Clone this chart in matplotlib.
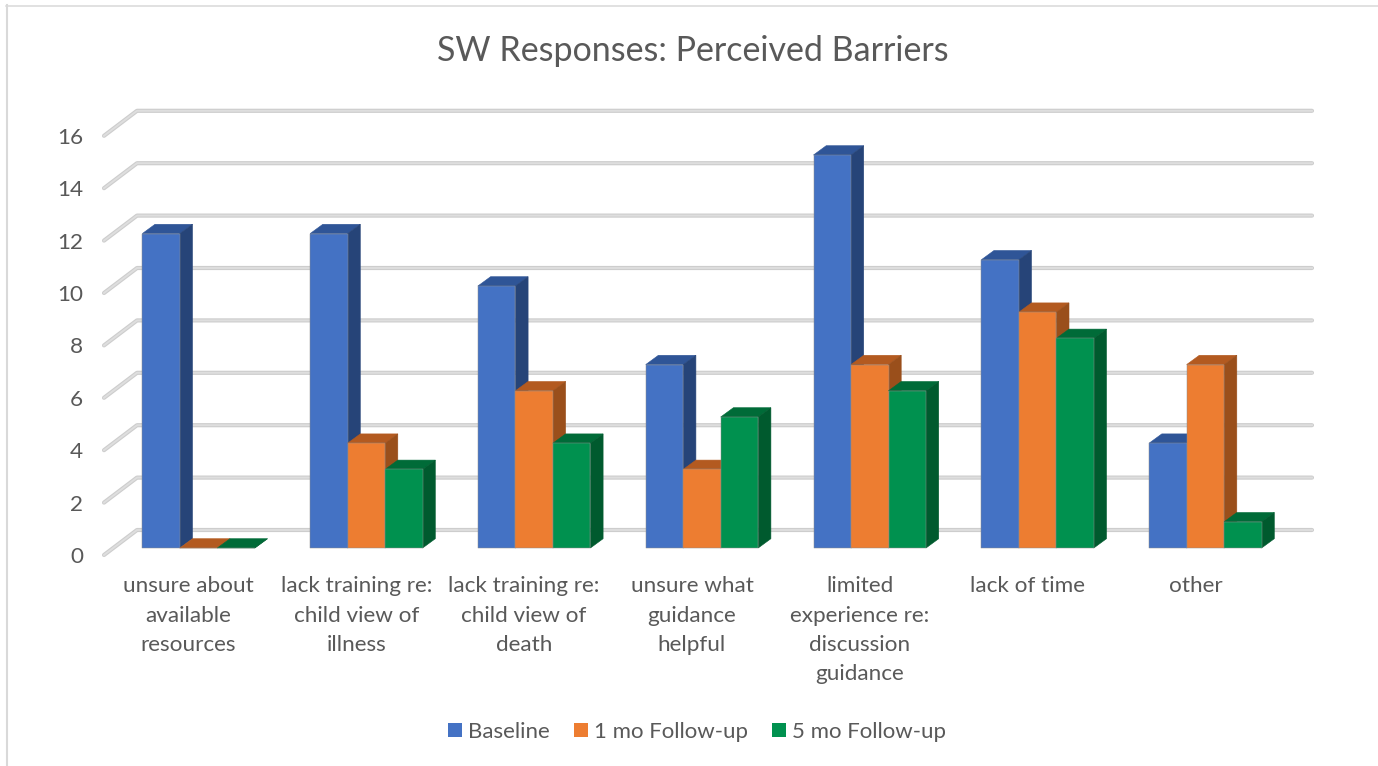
import matplotlib

matplotlib.use('Agg')
import matplotlib.pyplot as plt
from matplotlib.patches import Polygon, Rectangle
from matplotlib.transforms import ScaledTranslation

plt.rcParams['font.family'] = ['Lato', 'DejaVu Sans']

CATEGORIES = [
    'unsure about\navailable\nresources',
    'lack training re:\nchild view of\nillness',
    'lack training re:\nchild view of\ndeath',
    'unsure what\nguidance\nhelpful',
    'limited\nexperience re:\ndiscussion\nguidance',
    'lack of time',
    'other',
]
BASELINE = [12, 12, 10, 7, 15, 11, 4]
ONE_MONTH = [0, 4, 6, 3, 7, 9, 7]
FIVE_MONTH = [0, 3, 4, 5, 6, 8, 1]
SERIES_NAMES = ['Baseline', '1 mo Follow-up', '5 mo Follow-up']
Y_TICKS = [0, 2, 4, 6, 8, 10, 12, 14, 16]

FRONT_COLORS = ['#4472C4', '#ED7D31', '#00914F']
TOP_COLORS = ['#2F5597', '#B35A20', '#006B38']
SIDE_COLORS = ['#264478', '#9A4F1B', '#005A2E']
TEXT_COLOR = '#595959'

WIDTH, HEIGHT = 1378, 766
PX_PER_GROUP = 167.8
PX_PER_UNIT = 26.2
BASE_Y = 548.0
FIRST_CENTER = 198.55
BAR_PX = 37.5

fig = plt.figure(figsize=(WIDTH / 100, HEIGHT / 100), dpi=100)
# axes span x pixels 110-1310 and y from value 0 to value 16
left_px, right_px = 110, 1310
top_px = BASE_Y - 16 * PX_PER_UNIT
ax = fig.add_axes([
    left_px / WIDTH,
    1 - BASE_Y / HEIGHT,
    (right_px - left_px) / WIDTH,
    (BASE_Y - top_px) / HEIGHT,
])
ax.set_xlim(
    (left_px - FIRST_CENTER) / PX_PER_GROUP,
    (right_px - FIRST_CENTER) / PX_PER_GROUP,
)
ax.set_ylim(0, 16)
for spine in ax.spines.values():
    spine.set_visible(False)

bar_w = BAR_PX / PX_PER_GROUP
depth_x = 12.7 / PX_PER_GROUP
depth_y = 9.3 / PX_PER_UNIT

# gridlines: short diagonal on the side wall, long line on the back wall
grid_back_x = (137 - FIRST_CENTER) / PX_PER_GROUP
grid_front_x = (104 - FIRST_CENTER) / PX_PER_GROUP
grid_end_x = (1312 - FIRST_CENTER) / PX_PER_GROUP
grid_back_dy = (BASE_Y - 530) / PX_PER_UNIT
grid_front_dy = (BASE_Y - 555) / PX_PER_UNIT
for value in Y_TICKS:
    xs = [grid_front_x, grid_back_x, grid_end_x]
    ys = [value + grid_front_dy, value + grid_back_dy, value + grid_back_dy]
    ax.plot(xs, ys, color='#cdcdcd', lw=3.0, clip_on=False, zorder=1,
            solid_capstyle='round', solid_joinstyle='round')
    ax.plot(xs, ys, color='#dedede', lw=1.4, clip_on=False, zorder=1.1)


def draw_bar(x_left, value, idx, zorder):
    x_right = x_left + bar_w
    top = [(x_left, value), (x_right, value),
           (x_right + depth_x, value + depth_y),
           (x_left + depth_x, value + depth_y)]
    side = [(x_right, 0), (x_right + depth_x, depth_y),
            (x_right + depth_x, value + depth_y), (x_right, value)]
    shade = {'linewidth': 0.4, 'clip_on': False, 'zorder': zorder}
    ax.add_patch(Polygon(top, facecolor=TOP_COLORS[idx],
                         edgecolor=TOP_COLORS[idx], **shade))
    ax.add_patch(Polygon(side, facecolor=SIDE_COLORS[idx],
                         edgecolor=SIDE_COLORS[idx], **shade))
    ax.add_patch(Rectangle((x_left, 0), bar_w, value,
                           facecolor=FRONT_COLORS[idx], edgecolor='#8c8c8c',
                           linewidth=0.35, clip_on=False, zorder=zorder))


for group, values in enumerate(zip(BASELINE, ONE_MONTH, FIVE_MONTH)):
    for idx, value in enumerate(values):
        x_left = group + (idx - 1.5) * bar_w
        draw_bar(x_left, value, idx, 2 + group + idx * 0.1)

ax.set_xticks(range(len(CATEGORIES)))
ax.set_xticklabels(CATEGORIES, fontsize=16.2, color=TEXT_COLOR, linespacing=1.57)
ax.set_yticks(Y_TICKS)
ax.set_yticklabels([str(v) for v in Y_TICKS], fontsize=16.2, color=TEXT_COLOR)
ax.tick_params(axis='both', length=0)
ax.tick_params(axis='x', pad=20.5)
ax.tick_params(axis='y', pad=19.5)

# labels sit left of the bars and below the gridline ends, as in the 3D layout
x_shift = ScaledTranslation(-10 / 100, 0, fig.dpi_scale_trans)
for label in ax.get_xticklabels():
    label.set_transform(label.get_transform() + x_shift)
y_shift = ScaledTranslation(0, -7 / 100, fig.dpi_scale_trans)
for label in ax.get_yticklabels():
    label.set_transform(label.get_transform() + y_shift)

fig.text(693 / WIDTH, 1 - 51 / HEIGHT, 'SW Responses: Perceived Barriers',
         fontsize=24.5, color=TEXT_COLOR, ha='center', va='center')

handles = [Rectangle((0, 0), 1, 1, facecolor=c) for c in FRONT_COLORS]
fig.legend(handles, SERIES_NAMES, loc='center', ncol=3, frameon=False,
           bbox_to_anchor=(697 / WIDTH, 1 - 732 / HEIGHT), fontsize=16,
           labelcolor=TEXT_COLOR, handlelength=0.63, handleheight=0.63,
           handletextpad=0.27, columnspacing=1.08)

# chart frame, open on the right and bottom
fig.add_artist(plt.Line2D([6.5 / WIDTH, 6.5 / WIDTH], [0, 1 - 5 / HEIGHT],
                          color='#d9d9d9', lw=1.5))
fig.add_artist(plt.Line2D([6 / WIDTH, 1], [1 - 5.5 / HEIGHT, 1 - 5.5 / HEIGHT],
                          color='#d9d9d9', lw=1.1))

fig.savefig('out.png', dpi=100)
